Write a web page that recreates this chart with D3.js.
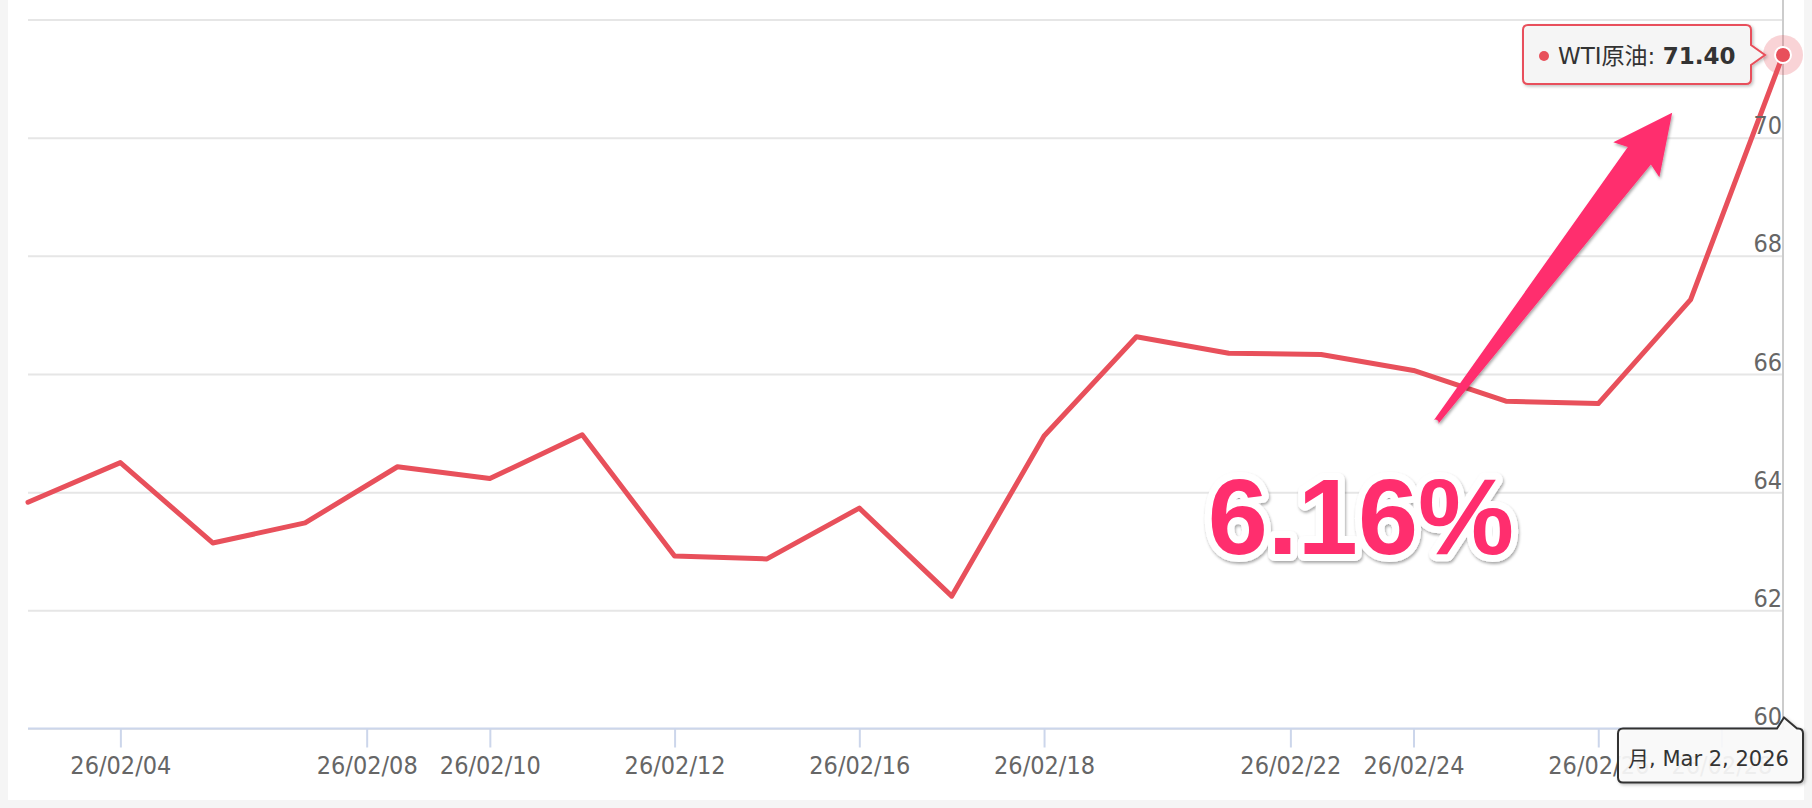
<!DOCTYPE html>
<html>
<head>
<meta charset="utf-8">
<script src="https://cdn.jsdelivr.net/npm/d3@7"></script>
<style>
    body { margin: 0; background: #f5f5f5; }
    svg { display: block; }
    .axis text { font-family: "DejaVu Sans Condensed", "DejaVu Sans", "Noto Sans CJK JP", sans-serif; font-stretch: condensed; font-size: 25px; fill: #666; }
</style>
</head>
<body>
<div id="container"></div>
<script>
"use strict";

// trading days only (ordinal axis)
const DATES = ["2026-02-03", "2026-02-04", "2026-02-05", "2026-02-06", "2026-02-09", "2026-02-10",
    "2026-02-11", "2026-02-12", "2026-02-13", "2026-02-16", "2026-02-17", "2026-02-18", "2026-02-19",
    "2026-02-20", "2026-02-23", "2026-02-24", "2026-02-25", "2026-02-26", "2026-02-27", "2026-03-02"];
const PRICES = [63.83, 64.50, 63.14, 63.48, 64.43, 64.23, 64.97, 62.92, 62.87, 63.73,
    62.24, 64.95, 66.63, 66.35, 66.33, 66.06, 65.54, 65.50, 67.26, 71.40];
const X_TICKS = ["2026-02-04", "2026-02-08", "2026-02-10", "2026-02-12", "2026-02-16",
    "2026-02-18", "2026-02-22", "2026-02-24", "2026-02-26", "2026-02-28"];
const Y_TICKS = [60, 62, 64, 66, 68, 70, 72];
const SERIES_NAME = "WTI原油";
const CHANGE_LABEL = "6.16%";
const WEEKDAYS_JA = ["日", "月", "火", "水", "木", "金", "土"];

// annotation anchors in data space (index, price)
const ARROW_TAIL = [15.24, 65.18];
const ARROW_TIP = [17.80, 70.42];
const CHANGE_POS = [14.43, 62.96];

const WIDTH = 1812;
const HEIGHT = 808;
const LEFT = 28;
const RIGHT = 1783;
const TOP = 19.5;
const BOTTOM = 728.5;

const LINE_COLOR = "#e8505b";
const ACCENT = "#ff2d6e";
const FONT = "'DejaVu Sans', 'Noto Sans CJK JP', sans-serif";

const PARSE = d3.timeParse("%Y-%m-%d");
const DATA = DATES.map((d, i) => ({ date: PARSE(d), price: PRICES[i], i: i }));

const SVG = d3.select("div#container").append("svg")
    .attr("width", WIDTH)
    .attr("height", HEIGHT);

const xScale = d3.scaleLinear().domain([0, DATA.length - 1]).range([LEFT, RIGHT]);
const yScale = d3.scaleLinear().domain([60, 72]).range([BOTTOM, TOP]);

init();

function init() {
    drawPanel();
    drawGrid();
    drawXAxis();
    drawCrosshair();
    drawLine();
    drawYLabels();
    drawAnnotation();
    drawMarker();
    drawTooltip();
    drawDateLabel();
}

function defs() {
    const d = SVG.append("defs");
    d.append("filter").attr("id", "shadow").attr("x", "-20%").attr("y", "-20%")
        .attr("width", "140%").attr("height", "150%")
        .append("feDropShadow").attr("dx", 1.5).attr("dy", 1.5).attr("stdDeviation", 1.5)
        .attr("flood-color", "#000").attr("flood-opacity", 0.25);
    d.append("filter").attr("id", "softshadow").attr("x", "-10%").attr("y", "-10%")
        .attr("width", "130%").attr("height", "130%")
        .append("feDropShadow").attr("dx", 1).attr("dy", 2).attr("stdDeviation", 1.5)
        .attr("flood-color", "#000").attr("flood-opacity", 0.35);
}

function drawPanel() {
    defs();
    SVG.append("rect").attr("width", WIDTH).attr("height", HEIGHT).attr("fill", "#f5f5f5");
    SVG.append("rect").attr("x", 8).attr("y", 0).attr("width", 1796).attr("height", 800).attr("fill", "#fff");
}

function drawGrid() {
    const grid = SVG.append("g")
        .attr("transform", `translate(${LEFT}, 0)`)
        .call(d3.axisRight(yScale).tickValues(Y_TICKS).tickSize(RIGHT - LEFT).tickFormat(""));
    grid.select(".domain").remove();
    grid.selectAll("line").attr("stroke", "#e6e6e6").attr("stroke-width", 2);
}

// position of a calendar date on the ordinal (trading day) axis
function ordinalIndex(date) {
    const t = PARSE(date);
    const j = d3.bisector(d => d.date).right(DATA, t) - 1;
    if (j >= DATA.length - 1) return DATA.length - 1;
    const a = DATA[j], b = DATA[j + 1];
    return j + (t - a.date) / (b.date - a.date);
}

function drawXAxis() {
    const fmt = d3.timeFormat("%y/%m/%d");
    const xaxis = d3.axisBottom(xScale)
        .tickValues(X_TICKS.map(ordinalIndex))
        .tickFormat((v, k) => fmt(PARSE(X_TICKS[k])))
        .tickSize(19)
        .tickSizeOuter(0)
        .tickPadding(9);

    const g = SVG.append("g")
        .attr("class", "axis")
        .attr("transform", `translate(0, ${BOTTOM})`)
        .call(xaxis);
    g.select(".domain").remove();
    g.selectAll("line").attr("stroke", "#ccd6eb").attr("stroke-width", 2);
    g.selectAll("text").attr("fill", "#666");

    g.append("line")
        .attr("x1", LEFT).attr("x2", RIGHT + 2)
        .attr("stroke", "#ccd6eb").attr("stroke-width", 2);
}

function drawYLabels() {
    const g = SVG.append("g")
        .attr("class", "axis")
        .attr("transform", `translate(${RIGHT - 1}, 0)`)
        .call(d3.axisLeft(yScale).tickValues(Y_TICKS.slice(0, -1)).tickSize(0).tickPadding(0));
    g.select(".domain").remove();
    g.selectAll("text").attr("dy", null).attr("y", -4).attr("fill", "#666");
}

function drawCrosshair() {
    SVG.append("line")
        .attr("x1", xScale(DATA.length - 1)).attr("x2", xScale(DATA.length - 1))
        .attr("y1", 0).attr("y2", BOTTOM)
        .attr("stroke", "#cccccc").attr("stroke-width", 2);
}

function drawLine() {
    const line = d3.line()
        .x(d => xScale(d.i))
        .y(d => yScale(d.price));

    SVG.append("path")
        .attr("d", line(DATA))
        .attr("fill", "none")
        .attr("stroke", LINE_COLOR)
        .attr("stroke-width", 5)
        .attr("stroke-linejoin", "round")
        .attr("stroke-linecap", "round");
}

function drawAnnotation() {
    const tx = xScale(ARROW_TAIL[0]), ty = yScale(ARROW_TAIL[1]);
    const px = xScale(ARROW_TIP[0]), py = yScale(ARROW_TIP[1]);
    const len = Math.hypot(px - tx, py - ty);
    const ux = (px - tx) / len, uy = (py - ty) / len;
    const nx = -uy, ny = ux;

    const at = (back, side) => [px - ux * back + nx * side, py - uy * back + ny * side];
    const tailL = [tx + nx * 2.8, ty + ny * 2.8];
    const tailR = [tx - nx * 2.8, ty - ny * 2.8];
    const pts = [tailL, at(54, 14.5), at(59, 29), [px, py], at(59, -29), at(54, -14.5), tailR];

    const path = d3.path();
    path.moveTo(pts[0][0], pts[0][1]);
    pts.slice(1).forEach(p => path.lineTo(p[0], p[1]));
    path.arc(tx, ty, 2.8, Math.atan2(-ny, -nx), Math.atan2(ny, nx), false);
    path.closePath();

    SVG.append("path")
        .attr("d", path.toString())
        .attr("fill", ACCENT)
        .attr("filter", "url(#softshadow)");

    SVG.append("text")
        .attr("x", xScale(CHANGE_POS[0]))
        .attr("y", yScale(CHANGE_POS[1]))
        .attr("text-anchor", "middle")
        .attr("font-family", "'Liberation Sans', Arial, sans-serif")
        .attr("font-weight", 700)
        .attr("font-size", 108)
        .attr("fill", ACCENT)
        .attr("stroke", "#fff")
        .attr("stroke-width", 14)
        .attr("stroke-linejoin", "round")
        .attr("paint-order", "stroke")
        .attr("filter", "url(#softshadow)")
        .text(CHANGE_LABEL);
}

function drawMarker() {
    const last = DATA[DATA.length - 1];
    SVG.append("circle")
        .attr("cx", xScale(last.i)).attr("cy", yScale(last.price))
        .attr("r", 20)
        .attr("fill", LINE_COLOR).attr("fill-opacity", 0.25);
    SVG.append("circle")
        .attr("cx", xScale(last.i)).attr("cy", yScale(last.price))
        .attr("r", 8)
        .attr("fill", LINE_COLOR)
        .attr("stroke", "#fff").attr("stroke-width", 2);
}

function drawTooltip() {
    const last = DATA[DATA.length - 1];
    const ax = xScale(last.i) - 18, ay = yScale(last.price);
    const w = 228, h = 59, r = 5;
    const x = xScale(last.i) - 32 - w, y = ay - 30;

    const p = d3.path();
    p.moveTo(x + r, y);
    p.lineTo(x + w - r, y);
    p.quadraticCurveTo(x + w, y, x + w, y + r);
    p.lineTo(x + w, ay - 10);
    p.lineTo(ax, ay);
    p.lineTo(x + w, ay + 10);
    p.lineTo(x + w, y + h - r);
    p.quadraticCurveTo(x + w, y + h, x + w - r, y + h);
    p.lineTo(x + r, y + h);
    p.quadraticCurveTo(x, y + h, x, y + h - r);
    p.lineTo(x, y + r);
    p.quadraticCurveTo(x, y, x + r, y);
    p.closePath();

    const g = SVG.append("g");
    g.append("path")
        .attr("d", p.toString())
        .attr("fill", "rgba(247,247,247,0.9)")
        .attr("stroke", LINE_COLOR).attr("stroke-width", 2)
        .attr("filter", "url(#shadow)");

    g.append("circle")
        .attr("cx", x + 21).attr("cy", ay + 1).attr("r", 5)
        .attr("fill", LINE_COLOR);

    const t = g.append("text")
        .attr("x", x + 35).attr("y", ay + 9)
        .attr("font-family", FONT).attr("font-size", 23)
        .attr("fill", "#333");
    t.append("tspan").text(SERIES_NAME + ": ");
    t.append("tspan").attr("font-weight", 700).text(last.price.toFixed(2));
}

function drawDateLabel() {
    const last = DATA[DATA.length - 1];
    const ax = xScale(last.i) + 1, ay = BOTTOM - 11;
    const w = 185, h = 54, r = 5;
    const x = 1618, y = BOTTOM;

    const p = d3.path();
    p.moveTo(x + r, y);
    p.lineTo(ax - 7, y);
    p.lineTo(ax, ay);
    p.lineTo(ax + 13, y);
    p.lineTo(x + w - r, y);
    p.quadraticCurveTo(x + w, y, x + w, y + r);
    p.lineTo(x + w, y + h - r);
    p.quadraticCurveTo(x + w, y + h, x + w - r, y + h);
    p.lineTo(x + r, y + h);
    p.quadraticCurveTo(x, y + h, x, y + h - r);
    p.lineTo(x, y + r);
    p.quadraticCurveTo(x, y, x + r, y);
    p.closePath();

    const g = SVG.append("g");
    g.append("path")
        .attr("d", p.toString())
        .attr("fill", "rgba(252,252,252,0.9)")
        .attr("stroke", "#333").attr("stroke-width", 2)
        .attr("filter", "url(#shadow)");

    const d = last.date;
    g.append("text")
        .attr("x", x + w / 2 - 2).attr("y", y + 37)
        .attr("text-anchor", "middle")
        .attr("font-family", FONT).attr("font-size", 21)
        .attr("fill", "#333")
        .text(`${WEEKDAYS_JA[d.getDay()]}, ${d3.timeFormat("%b %-d, %Y")(d)}`);
}
</script>
</body>
</html>
